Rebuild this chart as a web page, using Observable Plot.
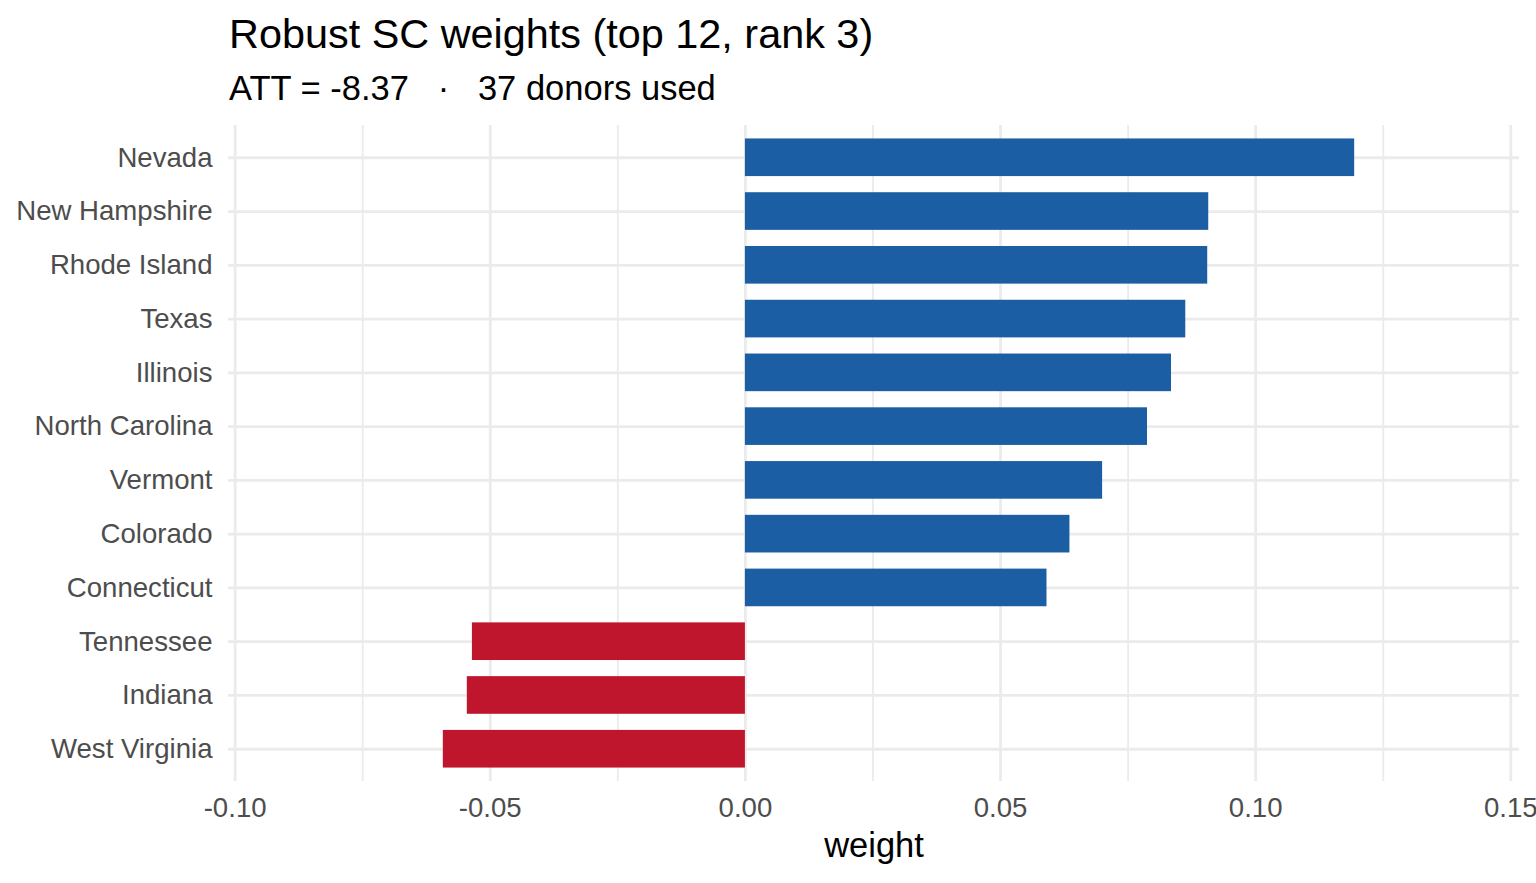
<!DOCTYPE html>
<html>
<head>
<meta charset="utf-8">
<script src="https://cdn.jsdelivr.net/npm/d3@7"></script>
<script src="https://cdn.jsdelivr.net/npm/@observablehq/plot@0.6"></script>
<style>
  html, body { margin: 0; padding: 0; background: #fff; }
  body { width: 1536px; height: 883px; overflow: hidden; font-family: "Liberation Sans", Arial, Helvetica, sans-serif; }
  #header { position: relative; height: 110px; }
  #title { position: absolute; left: 229px; top: 14px; font-size: 41.4px; line-height: 41.4px; color: #000; white-space: pre; }
  #subtitle { position: absolute; left: 229px; top: 71px; font-size: 34.5px; line-height: 34.5px; color: #000; white-space: pre; }
  #chart svg { display: block; }
</style>
</head>
<body>
<div id="header">
  <div id="title"></div>
  <div id="subtitle"></div>
</div>
<div id="chart"></div>
<script>
const titleText = "Robust SC weights (top 12, rank 3)";
const subtitleText = "ATT = -8.37   ·   37 donors used";
const xLabel = "weight";

const states = ["Nevada", "New Hampshire", "Rhode Island", "Texas", "Illinois", "North Carolina",
                "Vermont", "Colorado", "Connecticut", "Tennessee", "Indiana", "West Virginia"];
const weights = [0.1194, 0.0908, 0.0906, 0.0863, 0.0835, 0.0788,
                 0.0700, 0.0636, 0.0591, -0.0535, -0.0545, -0.0592];

const majorTicks = [-0.10, -0.05, 0.00, 0.05, 0.10, 0.15];
const minorTicks = [-0.075, -0.025, 0.025, 0.075, 0.125];
const tickLabels = ["-0.10", "-0.05", "0.00", "0.05", "0.10", "0.15"];

const posColor = "#1B5EA4";
const negColor = "#BF152D";

document.getElementById("title").textContent = titleText;
document.getElementById("subtitle").textContent = subtitleText;

const data = states.map((s, i) => ({state: s, weight: weights[i]}));

const plot = Plot.plot({
  width: 1536,
  height: 773,
  marginTop: 15,
  marginBottom: 102,
  marginLeft: 228,
  marginRight: 17,
  style: {fontFamily: '"Liberation Sans", Arial, Helvetica, sans-serif', background: "#fff"},
  x: {domain: [-0.1013, 0.1517]},
  y: {domain: states, paddingInner: 0.3, paddingOuter: 0.25, round: false},
  marks: [
    Plot.gridX(minorTicks, {stroke: "#ebebeb", strokeOpacity: 1, strokeWidth: 1.8}),
    Plot.gridX(majorTicks, {stroke: "#ebebeb", strokeOpacity: 1, strokeWidth: 2.8}),
    Plot.gridY(states, {stroke: "#ebebeb", strokeOpacity: 1, strokeWidth: 2.8}),
    Plot.barX(data, {
      x1: 0, x2: "weight", y: "state",
      fill: d => d.weight >= 0 ? posColor : negColor
    }),
    Plot.axisX(majorTicks, {
      tickSize: 0, tickPadding: 16, fontSize: 27.6, fill: "#4d4d4d",
      tickFormat: (d, i) => tickLabels[majorTicks.indexOf(d)], label: null
    }),
    Plot.axisY(states, {
      tickSize: 0, tickPadding: 16, fontSize: 27.6, fill: "#4d4d4d", label: null
    }),
    Plot.text([xLabel], {
      frameAnchor: "bottom", dy: 75, fontSize: 34.5, fill: "#000", text: d => d
    })
  ]
});

document.getElementById("chart").appendChild(plot);
</script>
</body>
</html>
